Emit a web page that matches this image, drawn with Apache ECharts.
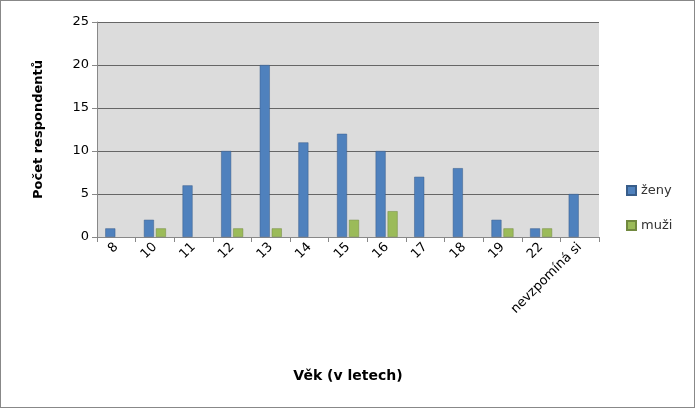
<!DOCTYPE html>
<html><head><meta charset="utf-8">
<script src="https://cdn.jsdelivr.net/npm/echarts@6/dist/echarts.min.js"></script>
<style>html,body{margin:0;padding:0;background:#fff}#c{width:695px;height:408px;box-sizing:border-box;border:1px solid #888}</style>
</head><body><div id="c"></div>
<script>
var categories = ['8','10','11','12','13','14','15','16','17','18','19','22','nevzpomíná si'];
var zeny = [1,2,6,10,20,11,12,10,7,8,2,1,5];
var muzi = [null,1,null,1,1,null,2,3,null,null,1,1,null];

var chart = echarts.init(document.getElementById('c'));
chart.setOption({
    animation: false,
    textStyle: {fontFamily: 'DejaVu Sans'},
    grid: {left: 96, top: 21, width: 502, height: 215, show: true, backgroundColor: '#dcdcdc', borderWidth: 0},
    legend: {
        orient: 'vertical', left: 620, top: 178, itemGap: 22,
        itemWidth: 9, itemHeight: 9, icon: 'rect',
        textStyle: {fontSize: 13, color: '#333'},
        data: ['ženy', 'muži']
    },
    xAxis: {
        type: 'category', data: categories,
        name: 'Věk (v letech)', nameLocation: 'middle', nameGap: 132,
        nameTextStyle: {fontSize: 14, fontWeight: 'bold', color: '#000'},
        axisLine: {lineStyle: {color: '#888'}},
        axisTick: {show: true, lineStyle: {color: '#888'}},
        axisLabel: {rotate: 45, fontSize: 13, color: '#000', interval: 0}
    },
    yAxis: {
        type: 'value', min: 0, max: 25, interval: 5,
        name: 'Počet respondentů', nameLocation: 'middle', nameGap: 52,
        nameTextStyle: {fontSize: 13, fontWeight: 'bold', color: '#000'},
        axisLine: {show: true, lineStyle: {color: '#888'}},
        axisTick: {show: true, lineStyle: {color: '#888'}},
        axisLabel: {fontSize: 13, color: '#000'},
        splitLine: {lineStyle: {color: '#666'}}
    },
    series: [
        {name: 'ženy', type: 'bar', data: zeny, barWidth: 10, barGap: '20%',
         itemStyle: {color: '#4f81bd', borderColor: '#385d8a', borderWidth: 0.5}},
        {name: 'muži', type: 'bar', data: muzi, barWidth: 10,
         itemStyle: {color: '#9bbb59', borderColor: '#71893f', borderWidth: 0.5}}
    ]
});
</script></body></html>
